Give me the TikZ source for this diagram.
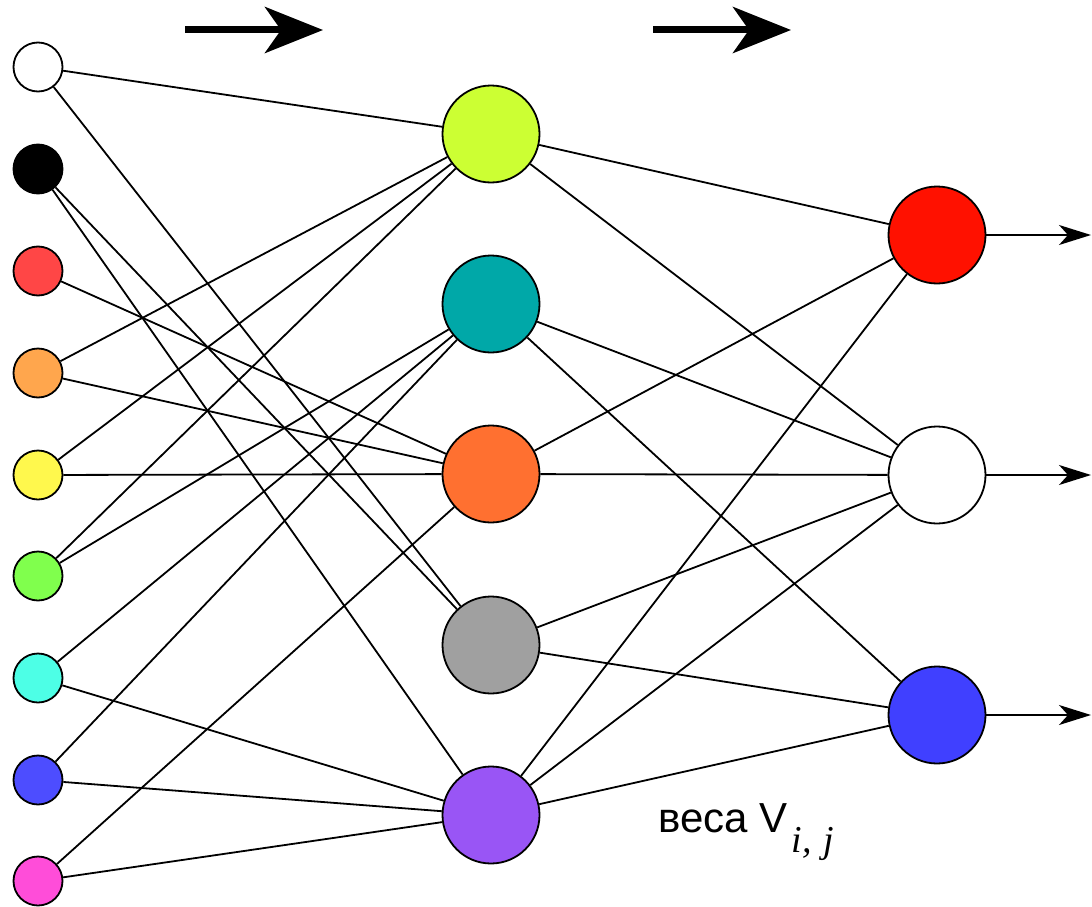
\documentclass[tikz,border=0pt]{standalone}
\usepackage{fontspec}
\setmainfont{Liberation Sans}
\newfontfamily\subserif{Liberation Serif}
\usetikzlibrary{arrows.meta}
\definecolor{cRed}{RGB}{255,70,70}
\definecolor{cOrange}{RGB}{255,166,77}
\definecolor{cYellow}{RGB}{255,248,77}
\definecolor{cGreen}{RGB}{128,255,77}
\definecolor{cCyan}{RGB}{77,255,230}
\definecolor{cBlue}{RGB}{77,77,255}
\definecolor{cMag}{RGB}{255,77,217}
\definecolor{hLime}{RGB}{204,255,51}
\definecolor{hTeal}{RGB}{0,168,168}
\definecolor{hOrange}{RGB}{255,112,48}
\definecolor{hGray}{RGB}{160,160,160}
\definecolor{hPurple}{RGB}{153,85,245}
\definecolor{oRed}{RGB}{255,17,0}
\definecolor{oBlue}{RGB}{64,64,255}
\begin{document}
\begin{tikzpicture}[x=1pt,y=-1pt,
  inp/.style={circle, draw=black, line width=1.8pt, minimum size=49pt, inner sep=0pt},
  hid/.style={circle, draw=black, line width=1.8pt, minimum size=97pt, inner sep=0pt},
  conn/.style={line width=1.8pt},
  outarrow/.style={line width=1.8pt, -{Stealth[length=32pt,width=20pt,inset=9pt]}},
  toparrow/.style={line width=7pt, -{Stealth[length=58pt,width=46pt,inset=16pt]}},
]
\useasboundingbox (0,0) rectangle (1092,907);
% input layer
\node[inp, fill=white]   (i1) at (38,67) {};
\node[inp, fill=black]   (i2) at (38,169) {};
\node[inp, fill=cRed]    (i3) at (38,271) {};
\node[inp, fill=cOrange] (i4) at (38,373) {};
\node[inp, fill=cYellow] (i5) at (38,475) {};
\node[inp, fill=cGreen]  (i6) at (38,576) {};
\node[inp, fill=cCyan]   (i7) at (38,678) {};
\node[inp, fill=cBlue]   (i8) at (38,780) {};
\node[inp, fill=cMag]    (i9) at (38,881) {};
% hidden layer
\node[hid, fill=hLime]   (h1) at (491,134) {};
\node[hid, fill=hTeal]   (h2) at (491,304) {};
\node[hid, fill=hOrange] (h3) at (491,474) {};
\node[hid, fill=hGray]   (h4) at (491,645) {};
\node[hid, fill=hPurple] (h5) at (491,815) {};
% output layer
\node[hid, fill=oRed]    (o1) at (937,235) {};
\node[hid, fill=white]   (o2) at (937,475) {};
\node[hid, fill=oBlue]   (o3) at (937,715) {};
% input -> hidden
\draw[conn] (i1) -- (h1); \draw[conn] (i1) -- (h4);
\draw[conn] (i2) -- (h4); \draw[conn] (i2) -- (h5);
\draw[conn] (i3) -- (h3);
\draw[conn] (i4) -- (h1); \draw[conn] (i4) -- (h3);
\draw[conn] (i5) -- (h1); \draw[conn] (i5) -- (h3);
\draw[conn] (i6) -- (h1); \draw[conn] (i6) -- (h2);
\draw[conn] (i7) -- (h2); \draw[conn] (i7) -- (h5);
\draw[conn] (i8) -- (h2); \draw[conn] (i8) -- (h5);
\draw[conn] (i9) -- (h3); \draw[conn] (i9) -- (h5);
% hidden -> output
\draw[conn] (h1) -- (o1); \draw[conn] (h1) -- (o2);
\draw[conn] (h2) -- (o2); \draw[conn] (h2) -- (o3);
\draw[conn] (h3) -- (o1); \draw[conn] (h3) -- (o2);
\draw[conn] (h4) -- (o2); \draw[conn] (h4) -- (o3);
\draw[conn] (h5) -- (o1); \draw[conn] (h5) -- (o2); \draw[conn] (h5) -- (o3);
% output arrows
\coordinate (e1) at (1091,235);
\coordinate (e2) at (1091,475);
\coordinate (e3) at (1091,715);
\draw[outarrow] (o1) -- (e1);
\draw[outarrow] (o2) -- (e2);
\draw[outarrow] (o3) -- (e3);
% top arrows
\coordinate (a1s) at (185,30); \coordinate (a1e) at (323,30);
\coordinate (a2s) at (653,30); \coordinate (a2e) at (791,30);
\draw[toparrow] (a1s) -- (a1e);
\draw[toparrow] (a2s) -- (a2e);
% label
\node[anchor=base west, inner sep=0pt, font=\fontsize{42}{48}\selectfont] (lbl) at (658,832)
  {веса V\kern4pt\raisebox{-20pt}{\fontsize{38}{40}\selectfont\subserif\itshape i,\hspace{12pt}j}};
\end{tikzpicture}
\end{document}
